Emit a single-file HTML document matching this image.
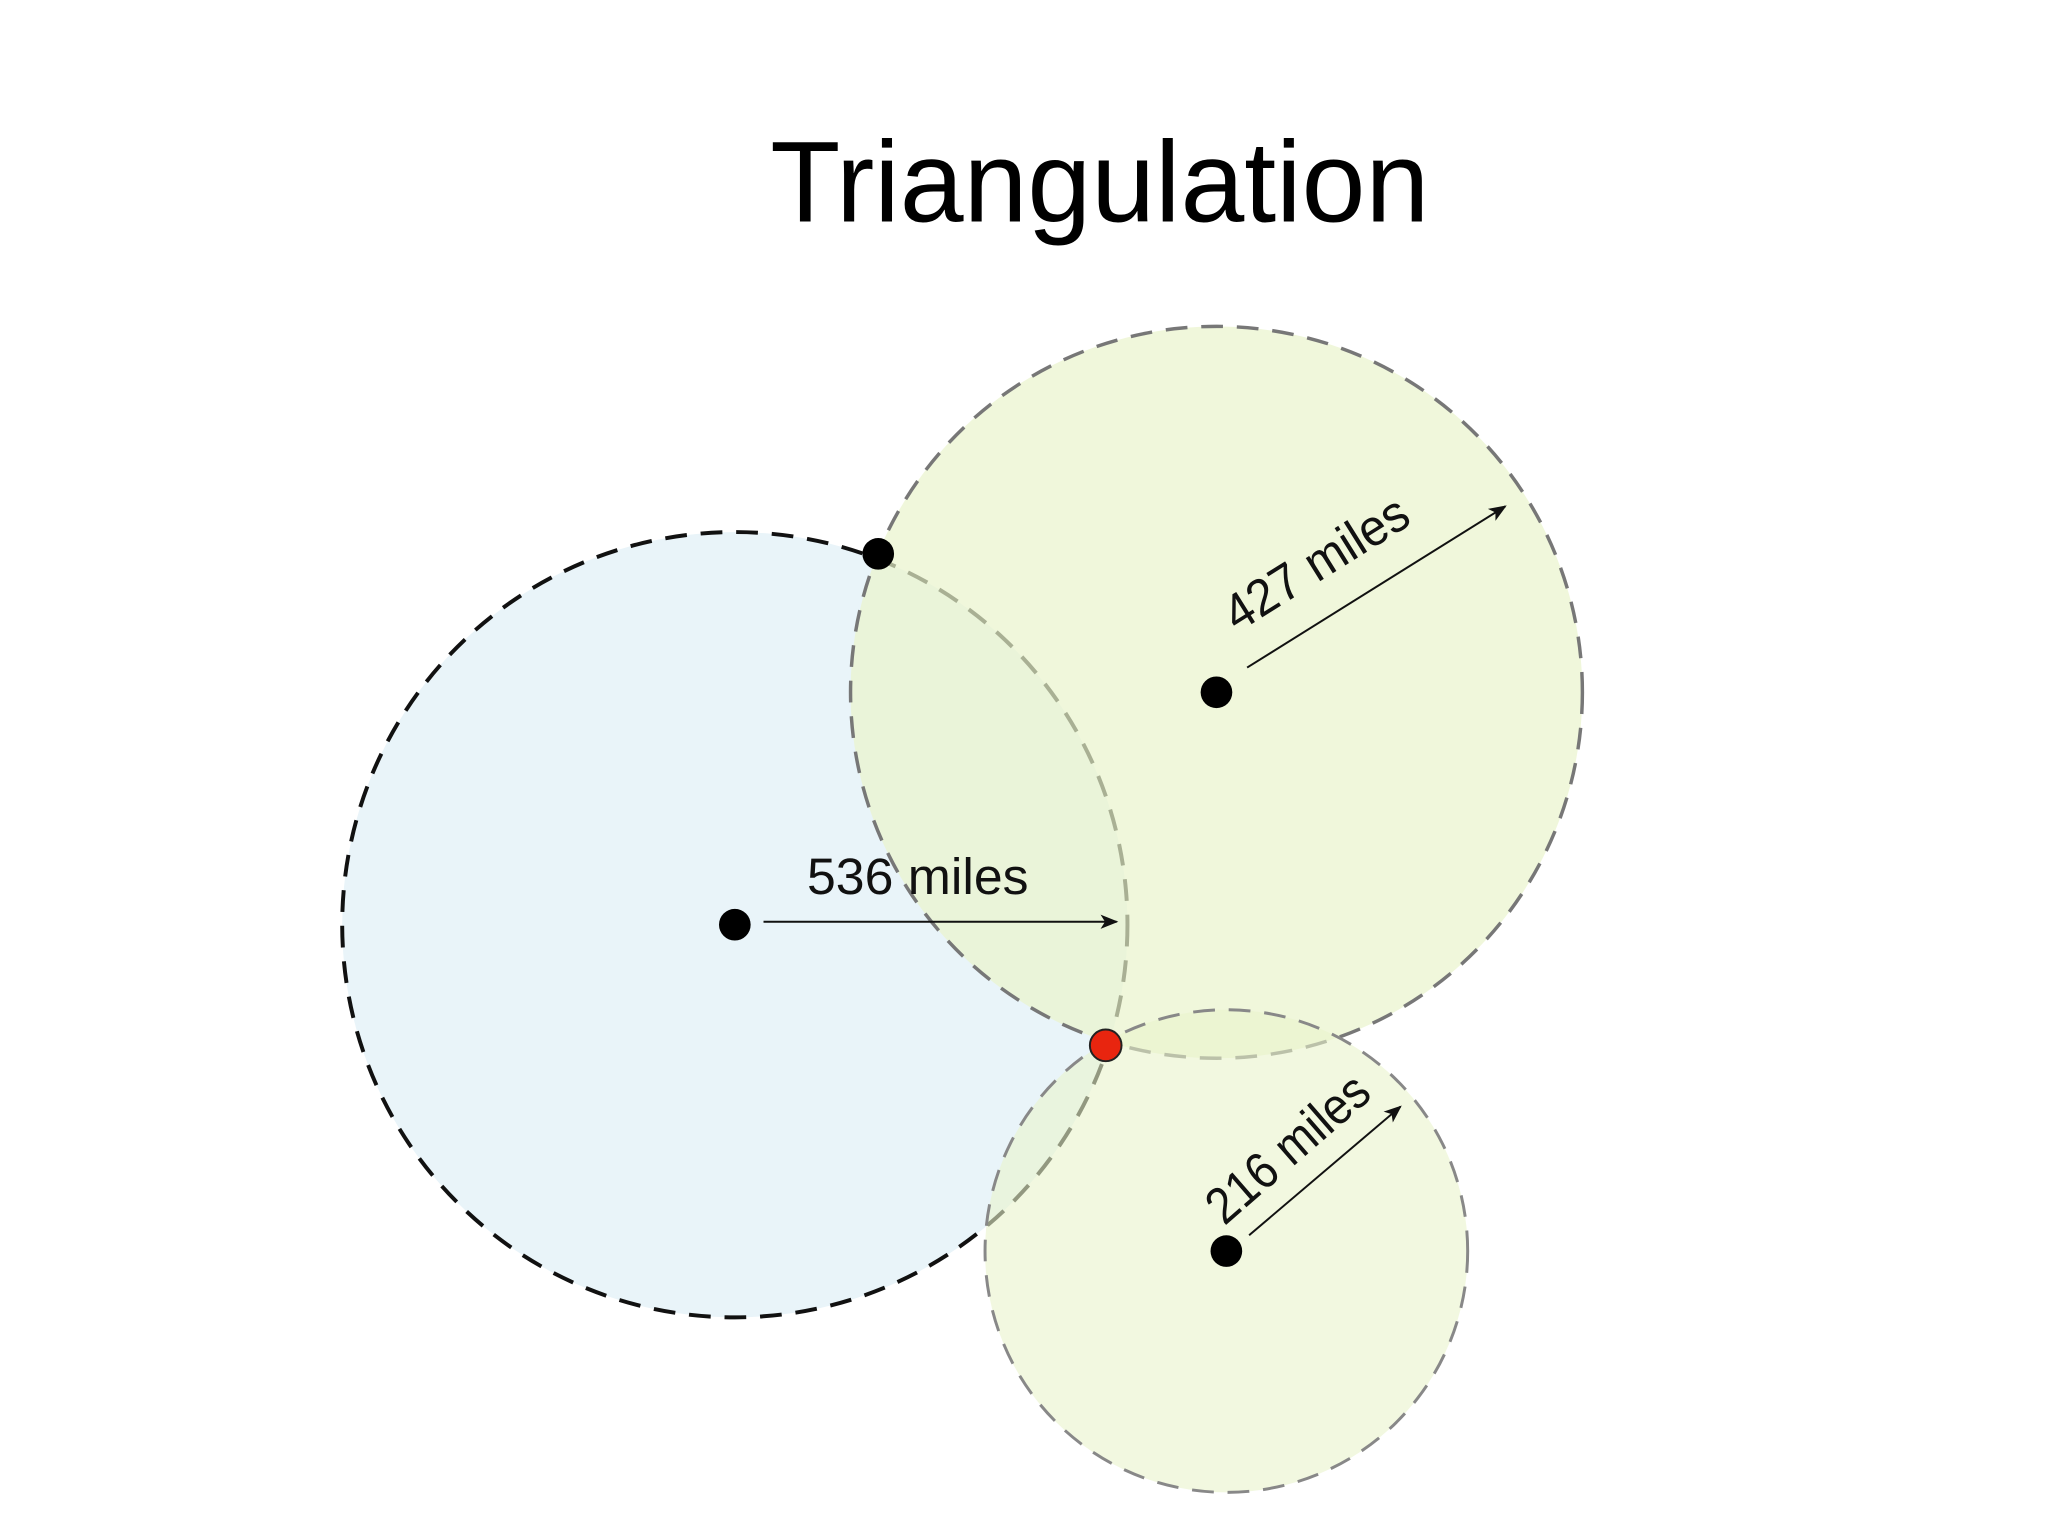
<!DOCTYPE html>
<html><head><meta charset="utf-8"><style>
html,body{margin:0;padding:0;background:#fff;width:2048px;height:1536px;overflow:hidden}
svg{display:block}
</style></head><body>
<svg width="2048" height="1536" viewBox="0 0 2048 1536" xmlns="http://www.w3.org/2000/svg">
<defs>
<marker id="ah2" viewBox="0 0 10 10" refX="9" refY="5" markerWidth="18" markerHeight="18" orient="auto" markerUnits="userSpaceOnUse">
<path d="M0,1 L10,5 L0,9 L2.5,5 z" fill="#111"/></marker>
</defs>
<g transform="scale(0.989)">
<text x="1112" y="224" font-family="Liberation Sans, sans-serif" font-size="116" text-anchor="middle" fill="#000">Triangulation</text>
<circle cx="743" cy="935" r="397" fill="#e9f4f9" stroke="#111" stroke-width="4" stroke-dasharray="22 14"/>
<circle cx="1230" cy="700" r="370" fill="#eaf4cc" fill-opacity="0.7" stroke="#777" stroke-width="3.5" stroke-dasharray="22 14"/>
<circle cx="1240" cy="1265" r="244" fill="#eaf4cc" fill-opacity="0.6" stroke="#888" stroke-width="3" stroke-dasharray="22 14"/>
<line x1="772" y1="932" x2="1129" y2="932" stroke="#111" stroke-width="2" marker-end="url(#ah2)"/>
<line x1="1261" y1="675" x2="1522" y2="512" stroke="#111" stroke-width="2" marker-end="url(#ah2)"/>
<line x1="1263" y1="1249" x2="1416" y2="1119" stroke="#111" stroke-width="2" marker-end="url(#ah2)"/>
<text x="816" y="904" font-family="Liberation Sans, sans-serif" font-size="52" fill="#111" textLength="224" lengthAdjust="spacingAndGlyphs">536 miles</text>
<text transform="translate(1251,640) rotate(-32)" font-family="Liberation Sans, sans-serif" font-size="52" fill="#111" textLength="210" lengthAdjust="spacingAndGlyphs">427 miles</text>
<text transform="translate(1238,1240) rotate(-41)" font-family="Liberation Sans, sans-serif" font-size="52" fill="#111" textLength="200" lengthAdjust="spacingAndGlyphs">216 miles</text>
<circle cx="888" cy="560" r="16" fill="#000"/>
<circle cx="1230" cy="700" r="16" fill="#000"/>
<circle cx="743" cy="935" r="16" fill="#000"/>
<circle cx="1240" cy="1265" r="16" fill="#000"/>
<circle cx="1118" cy="1057" r="16" fill="#e8250f" stroke="#222" stroke-width="2"/>
</g>
</svg>
</body></html>
